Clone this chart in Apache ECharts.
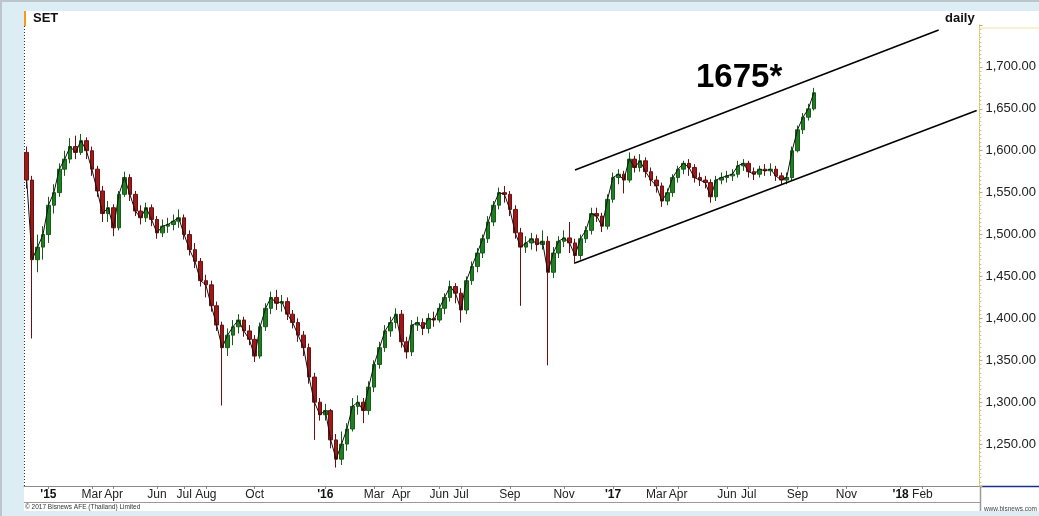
<!DOCTYPE html>
<html>
<head>
<meta charset="utf-8">
<script src="https://cdn.jsdelivr.net/npm/echarts@6/dist/echarts.min.js"></script>
<style>
html,body{margin:0;padding:0;background:#dcedf3;}
#chart{width:1039px;height:516px;}
</style>
</head>
<body>
<div id="chart"></div>
<script>
// Weekly OHLC of SET index, weeks starting Monday 2014-12-08
const weekStart = '2014-12-08';
const weekCount = 176;
const opens = [1598,1565,1470,1485,1500,1535,1550,1578,1590,1605,1598,1612,1600,1578,1552,1525,1532,1508,1548,1568,
1548,1528,1520,1532,1518,1502,1510,1512,1516,1520,1500,1482,1468,1445,1440,1415,1392,1365,1380,1390,
1398,1385,1375,1355,1390,1412,1425,1418,1420,1405,1395,1380,1365,1330,1300,1285,1290,1255,1232,1250,
1268,1295,1300,1290,1318,1345,1365,1385,1395,1405,1372,1360,1392,1395,1388,1400,1398,1412,1425,1438,
1430,1410,1445,1462,1478,1495,1515,1535,1550,1548,1530,1502,1485,1490,1495,1488,1492,1455,1478,1492,
1496,1490,1475,1495,1505,1525,1522,1510,1542,1568,1572,1565,1590,1580,1588,1575,1565,1558,1540,1550,
1568,1578,1585,1580,1568,1565,1562,1545,1565,1568,1570,1572,1582,1585,1575,1572,1578,1576,1578,1570,
1565,1568,1600,1625,1640,1650];
const closes = [1565,1470,1485,1500,1535,1550,1578,1590,1605,1598,1612,1600,1578,1552,1525,1532,1508,1548,1568,1548,
1528,1520,1532,1518,1502,1510,1512,1516,1520,1500,1482,1468,1445,1440,1415,1392,1365,1380,1390,1398,
1385,1375,1355,1390,1412,1425,1418,1420,1405,1395,1380,1365,1330,1300,1285,1290,1255,1232,1250,1268,
1295,1300,1290,1318,1345,1365,1385,1395,1405,1372,1360,1392,1395,1388,1400,1398,1412,1425,1438,1430,
1410,1445,1462,1478,1495,1515,1535,1550,1548,1530,1502,1485,1490,1495,1488,1492,1455,1478,1492,1496,
1490,1475,1495,1505,1525,1522,1510,1542,1568,1572,1565,1590,1580,1588,1575,1565,1558,1540,1550,1568,
1578,1585,1580,1568,1565,1562,1545,1565,1568,1570,1572,1582,1585,1575,1572,1578,1576,1578,1570,1565,
1568,1600,1625,1640,1650,1669.11];
const lows = [1555,1376,1455,1470,1490,1525,1545,1570,1585,1590,1595,1590,1570,1545,1515,1515,1498,1505,1545,1540,
1522,1512,1515,1510,1495,1497,1502,1505,1508,1494,1475,1460,1438,1425,1408,1385,1296,1355,1368,1382,
1378,1368,1348,1352,1385,1405,1410,1408,1398,1388,1372,1355,1322,1255,1278,1278,1245,1222,1225,1242,
1265,1285,1275,1285,1312,1340,1360,1378,1388,1365,1352,1355,1385,1380,1382,1390,1395,1405,1420,1418,
1395,1405,1440,1455,1472,1490,1510,1530,1538,1522,1495,1415,1478,1482,1480,1482,1344,1448,1472,1485,
1478,1465,1470,1490,1500,1515,1503,1506,1538,1560,1549,1562,1574,1575,1568,1558,1550,1533,1535,1545,
1562,1572,1570,1562,1558,1555,1538,1540,1560,1562,1564,1568,1576,1568,1565,1568,1570,1570,1564,1560,
1560,1565,1598,1620,1636,1648];
const highs = [1605,1570,1500,1510,1545,1560,1585,1600,1615,1618,1620,1616,1605,1582,1558,1540,1536,1552,1575,1572,
1552,1535,1538,1536,1522,1518,1520,1524,1530,1524,1505,1490,1472,1452,1445,1420,1396,1388,1398,1405,
1402,1392,1380,1395,1418,1432,1434,1428,1425,1410,1400,1385,1370,1335,1305,1298,1292,1262,1265,1275,
1305,1308,1305,1325,1350,1372,1392,1402,1412,1410,1378,1398,1402,1400,1406,1408,1418,1430,1445,1442,
1436,1450,1468,1484,1500,1522,1540,1556,1558,1552,1535,1508,1498,1502,1500,1505,1498,1485,1498,1505,
1515,1495,1500,1510,1532,1532,1526,1548,1574,1578,1576,1598,1594,1596,1592,1580,1570,1562,1555,1572,
1582,1588,1590,1584,1574,1570,1566,1570,1574,1576,1578,1588,1590,1588,1580,1582,1584,1585,1582,1574,
1574,1605,1630,1645,1656,1675];
// x-axis tick labels: [week index, text, isYear]
const tickLabels = [[4,"'15",1],[12,'Mar',0],[16,'Apr',0],[24,'Jun',0],[29,'Jul',0],[33,'Aug',0],[42,'Oct',0],
[55,"'16",1],[64,'Mar',0],[69,'Apr',0],[76,'Jun',0],[80,'Jul',0],[89,'Sep',0],[99,'Nov',0],
[108,"'17",1],[116,'Mar',0],[120,'Apr',0],[129,'Jun',0],[133,'Jul',0],[142,'Sep',0],[151,'Nov',0],
[161,"'18",1],[165,'Feb',0]];
const channelUpper = [[101,1577],[168,1744]];
const channelLower = [[101,1466],[175,1648]];
const lastValue = 1669.11;

const categories = [];
{
  const d0 = new Date(weekStart + 'T00:00:00Z');
  for (let i = 0; i < weekCount; i++) {
    const d = new Date(d0.getTime() + i * 7 * 86400000);
    categories.push(d.toISOString().slice(0, 10));
  }
}
const ohlc = opens.map((o, i) => [o, closes[i], lows[i], highs[i]]);
const labelMap = new Map(tickLabels.map(t => [t[0], t]));
function fmtNum(v) {
  const s = v.toFixed(2);
  const parts = s.split('.');
  return parts[0].replace(/\B(?=(\d{3})+(?!\d))/g, ',') + '.' + parts[1];
}

const FONT = '"Liberation Sans", Arial, sans-serif';
const chart = echarts.init(document.getElementById('chart'), null, {renderer: 'canvas'});
chart.setOption({
  animation: false,
  backgroundColor: '#dcedf3',
  textStyle: {fontFamily: FONT},
  graphic: [
    {type: 'rect', shape: {x: 0, y: 0, width: 1039, height: 2}, style: {fill: '#bcc6ca'}, z: -10},
    {type: 'rect', shape: {x: 0, y: 0, width: 2, height: 516}, style: {fill: '#bcc6ca'}, z: -10},
    {type: 'rect', shape: {x: 24, y: 11, width: 1015, height: 500}, style: {fill: '#ffffff'}, z: -5},
    {type: 'line', shape: {x1: 980, y1: 28, x2: 1039, y2: 28}, style: {stroke: '#f3e2a8', lineWidth: 1}},
    {type: 'line', shape: {x1: 980, y1: 486.5, x2: 1039, y2: 486.5}, style: {stroke: '#1c2f8a', lineWidth: 1.5}},
    {type: 'line', shape: {x1: 24, y1: 502.5, x2: 980, y2: 502.5}, style: {stroke: '#9a9a9a', lineWidth: 1}},
    {type: 'line', shape: {x1: 980.5, y1: 487, x2: 980.5, y2: 511}, style: {stroke: '#9a9a9a', lineWidth: 1.5}},
    {type: 'line', shape: {x1: 24.5, y1: 26, x2: 24.5, y2: 487}, style: {stroke: '#333', lineWidth: 1, lineDash: [1, 2]}},
    {type: 'rect', shape: {x: 24, y: 11, width: 2, height: 15}, style: {fill: '#f39a1e'}},
    {type: 'text', left: 33, top: 12, style: {text: 'SET', font: 'bold 13px ' + FONT, fill: '#111'}},
    {type: 'text', left: 945, top: 12, style: {text: 'daily', font: 'bold 13px ' + FONT, fill: '#111'}},
    {type: 'text', left: 696, top: 61, style: {text: '1675*', font: 'bold 33px ' + FONT, fill: '#000'}},
    {type: 'text', left: 25, top: 504, style: {text: '\u00a9 2017 Bisnews AFE (Thailand) Limited', font: '6.5px ' + FONT, fill: '#333'}},
    {type: 'text', right: 2, top: 506, style: {text: 'www.bisnews.com', font: '6.5px ' + FONT, fill: '#444'}}
  ],
  grid: {left: 24, top: 25, width: 956, height: 461, containLabel: false},
  xAxis: {
    type: 'category',
    data: categories,
    boundaryGap: true,
    axisLine: {lineStyle: {color: '#8a8a8a', width: 1}},
    axisTick: {show: true, alignWithLabel: true, length: 3, interval: (i) => labelMap.has(i), lineStyle: {color: '#888'}},
    axisLabel: {
      interval: (i) => labelMap.has(i),
      margin: 3,
      fontSize: 12,
      color: '#222',
      fontFamily: FONT,
      formatter: (v, i) => {
        const t = labelMap.get(i);
        if (!t) return '';
        return t[2] ? '{b|' + t[1] + '}' : t[1];
      },
      rich: {b: {fontWeight: 'bold', fontSize: 12, color: '#111', fontFamily: FONT}}
    },
    splitLine: {show: false}
  },
  yAxis: {
    type: 'value',
    position: 'right',
    min: 1200,
    max: 1750,
    interval: 50,
    scale: true,
    axisLine: {show: true, lineStyle: {color: '#d9bd5e', type: 'dotted', width: 1}},
    axisTick: {show: true, length: 3, lineStyle: {color: '#c9ad50'}},
    minorTick: {show: true, splitNumber: 10, length: 2, lineStyle: {color: '#dcc470'}},
    axisLabel: {
      showMinLabel: false,
      showMaxLabel: false,
      margin: 6,
      fontSize: 13,
      color: '#222',
      fontFamily: FONT,
      formatter: (v) => fmtNum(v)
    },
    splitLine: {show: false}
  },
  series: [
    {
      type: 'candlestick',
      data: ohlc,
      barWidth: 4,
      itemStyle: {
        color: '#1f7d22',
        color0: '#9c1a1a',
        borderColor: '#175c18',
        borderColor0: '#6e1010',
        borderWidth: 1
      },
      markLine: {
        silent: true,
        symbol: ['none', 'none'],
        animation: false,
        data: [
          [{coord: channelUpper[0], lineStyle: {color: '#000', width: 1.6, type: 'solid'}, label: {show: false}}, {coord: channelUpper[1]}],
          [{coord: channelLower[0], lineStyle: {color: '#000', width: 1.6, type: 'solid'}, label: {show: false}}, {coord: channelLower[1]}],
          {
            yAxis: lastValue,
            lineStyle: {opacity: 0},
            label: {
              show: true,
              position: 'end',
              distance: 2,
              formatter: fmtNum(lastValue),
              backgroundColor: '#2c62dc',
              color: '#ffffff',
              fontSize: 13,
              fontFamily: FONT,
              padding: [1, 2, 0, 2]
            }
          }
        ]
      }
    },
    {
      type: 'line',
      data: closes,
      symbol: 'none',
      lineStyle: {color: '#111', width: 1},
      z: 3
    }
  ]
});
</script>
</body>
</html>
